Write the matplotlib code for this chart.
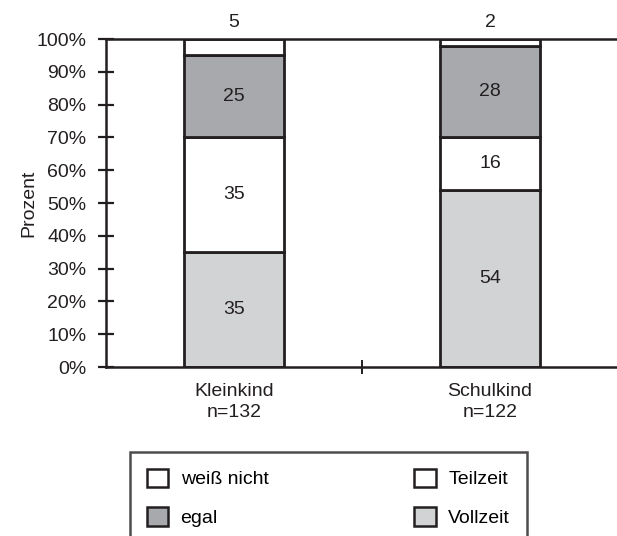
import matplotlib.pyplot as plt
from matplotlib.patches import Patch
import numpy as np

plt.rcParams['font.family'] = ['Liberation Sans', 'DejaVu Sans']

groups = ['Kleinkind\nn=132', 'Schulkind\nn=122']
series = ['Vollzeit', 'Teilzeit', 'egal', 'weiß nicht']
vollzeit = [35, 54]
teilzeit = [35, 16]
egal = [25, 28]
weiss_nicht = [5, 2]

colors = {'Vollzeit': '#d1d3d4', 'Teilzeit': '#ffffff',
          'egal': '#a7a9ac', 'weiß nicht': '#ffffff'}
edge = '#231f20'
fs = 14

fig = plt.figure(figsize=(6.17, 5.36), dpi=100)
ax = fig.add_axes([106 / 617, 1 - 367 / 536, 512 / 617, 328 / 536])

x = np.arange(len(groups))
width = 0.39
bottom = np.zeros(len(groups))
for name, vals in zip(series, [vollzeit, teilzeit, egal, weiss_nicht]):
    vals = np.array(vals, dtype=float)
    ax.bar(x, vals, width, bottom=bottom, color=colors[name],
           edgecolor=edge, linewidth=2.0, zorder=2)
    for xi, b, v in zip(x, bottom, vals):
        if name == 'weiß nicht':
            # small shares are labelled above the plot frame
            ax.text(xi, 102.5, f'{v:g}', ha='center', va='bottom',
                    fontsize=fs, color=edge, clip_on=False)
        else:
            ax.text(xi, b + v / 2, f'{v:g}', ha='center', va='center',
                    fontsize=fs, color=edge)
    bottom += vals

ax.set_xlim(-0.5, 1.5)
ax.set_ylim(0, 100)
ax.set_yticks(np.arange(0, 101, 10))
ax.set_yticklabels([f'{v}%' for v in range(0, 101, 10)], fontsize=fs)
ax.set_xticks([0.5])
ax.set_xticklabels([''])
ax.tick_params(axis='x', direction='inout', length=10, width=1.4, color=edge)
ax.tick_params(axis='y', direction='inout', length=12, width=1.6, color=edge,
               labelcolor=edge, pad=8)
for i, g in enumerate(groups):
    ax.text(i, -5, g, ha='center', va='top', fontsize=fs, color=edge,
            linespacing=1.3)

for side in ['left', 'bottom', 'top']:
    ax.spines[side].set_color(edge)
    ax.spines[side].set_linewidth(1.8)
ax.spines['right'].set_visible(False)
ax.set_ylabel('Prozent', fontsize=fs, color=edge)
ax.yaxis.set_label_coords(-0.135, 0.5)

handles = [Patch(facecolor=colors[s], edgecolor=edge, linewidth=1.8, label=s)
           for s in ['weiß nicht', 'egal', 'Teilzeit', 'Vollzeit']]
leg = fig.legend(handles=handles, ncol=2, loc='upper left',
                 bbox_to_anchor=(130 / 617, 1 - 452 / 536), fontsize=fs,
                 frameon=True, fancybox=False, edgecolor=edge,
                 handlelength=1.1, handleheight=1.1, columnspacing=7.5,
                 labelspacing=0.95, borderpad=0.85, handletextpad=0.65,
                 borderaxespad=0)
leg.get_frame().set_linewidth(1.8)

fig.savefig('out.png', dpi=100, facecolor='white')
